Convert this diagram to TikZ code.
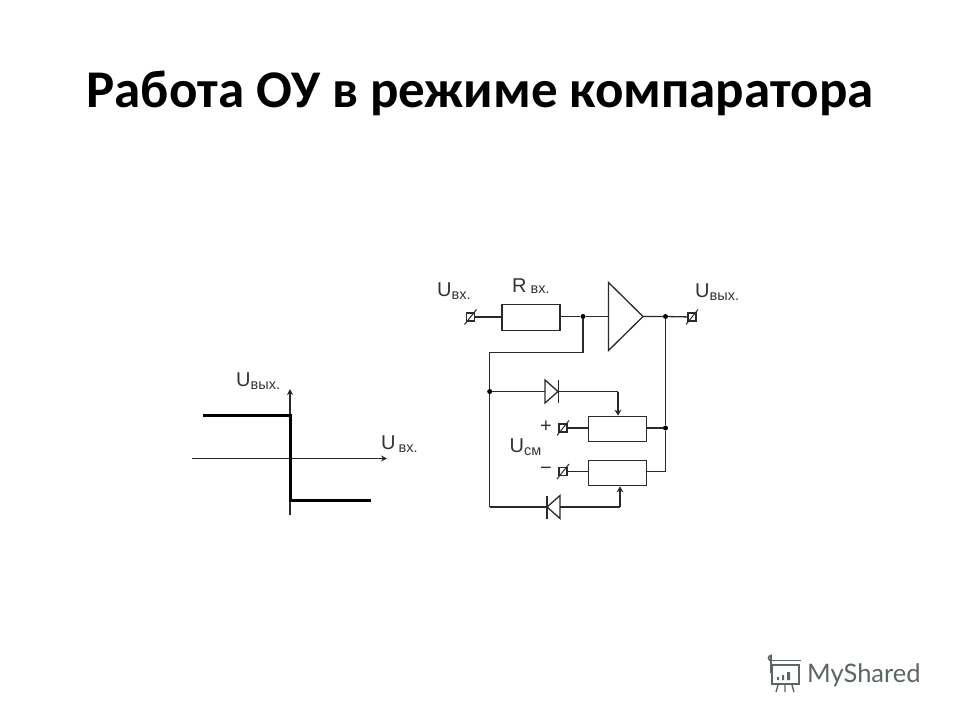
\documentclass[tikz,border=0pt]{standalone}
\usepackage{fontspec}
\setmainfont{Liberation Sans}
\newfontfamily\titlefont{Carlito}
\newfontfamily\logofont{Lato}
\usetikzlibrary{arrows.meta,shapes.geometric}
\definecolor{wirecolor}{HTML}{2A2A2A}
\definecolor{labelcolor}{HTML}{333333}
\definecolor{logocolor}{HTML}{5B6665}
\newcommand{\volt}[3][0pt]{{\fontsize{20}{20}\selectfont #2}\hspace{#1}\raisebox{-3pt}{\fontsize{14.5}{14.5}\selectfont #3}}
\tikzset{
    wire/.style={draw=wirecolor,line width=1.3pt},
    thinaxis/.style={draw=wirecolor,line width=1.1pt,-{Stealth[length=6pt,width=6pt]}},
    curve/.style={draw=black,line width=3pt},
    tap/.style={wire,-{Stealth[length=6pt,width=7pt]}},
    dot/.style={circle,fill=black,inner sep=0,minimum size=5pt},
    terminal/.style={rectangle,wire,inner sep=0,minimum size=8pt},
    resistor/.style={rectangle,wire,inner sep=0,minimum width=58pt,minimum height=25.5pt},
    diode/.style={isosceles triangle,isosceles triangle stretches,wire,inner sep=0,outer sep=0,minimum height=13pt,minimum width=23pt,anchor=apex},
    amplifier/.style={isosceles triangle,isosceles triangle stretches,wire,inner sep=0,outer sep=0,minimum height=34.5pt,minimum width=68pt,anchor=apex},
    caption/.style={text=labelcolor,inner sep=0,anchor=base west},
}
% terminal with its slash
\newcommand{\terminal}[3]{
    \node[terminal] (#1) at (#2,#3) {};
    \draw[wire,line width=1pt] (#2-6,#3+7.5) -- (#2+6,#3-7.5);
}
\begin{document}
\begin{tikzpicture}[x=1pt,y=-1pt]
    \useasboundingbox (0,0) rectangle (960,720);
    \pgfmathsetmacro{\inrow}{316.5}
    \pgfmathsetmacro{\leftrail}{489.7}
    \pgfmathsetmacro{\rightrail}{665.5}
    \pgfmathsetmacro{\toprow}{391.5}
    \pgfmathsetmacro{\bottomrow}{507}
    \node[inner sep=0,anchor=base] (title) at (480,107) {\titlefont\bfseries\fontsize{53}{53}\selectfont Работа ОУ в режиме компаратора};

    % characteristic
    \coordinate (xstart) at (192,458.5);
    \coordinate (xend) at (387,458.5);
    \coordinate (ystart) at (290,515);
    \coordinate (yend) at (290,389);
    \draw[thinaxis] (xstart) -- (xend);
    \draw[thinaxis] (ystart) -- (yend);
    \coordinate (highstart) at (203,415.5);
    \coordinate (highend) at (290,415.5);
    \coordinate (lowstart) at (290,500);
    \coordinate (lowend) at (371,500);
    \draw[curve,line join=miter] (highstart) -- (highend) -- (lowstart) -- (lowend);
    \node[caption] (youtlabel) at (236,386.5) {\volt{U}{вых.}};
    \node[caption] (xinlabel) at (381,449) {\volt[3pt]{U}{вх.}};

    % main line
    \terminal{tin}{470.5}{317}
    \node[resistor] (rin) at (531,\inrow+1) {};
    \node[dot] (jin) at (583,\inrow) {};
    \node[amplifier] (amp) at (643,\inrow) {};
    \node[dot] (jout) at (\rightrail,\inrow) {};
    \terminal{tout}{692}{317}
    \draw[wire] (tin) -- (rin.west |- tin);
    \draw[wire] (rin.east |- jin) -- (jin) -- (amp.lower side);
    \draw[wire] (amp.apex) -- (jout) -- (tout);
    \node[caption] (uinlabel) at (437,296) {\volt{U}{вх.}};
    \node[caption] (rinlabel) at (512,292.5) {{\fontsize{20}{20}\selectfont R}\hspace{4pt}\raisebox{-1pt}{\fontsize{14.5}{14.5}\selectfont вх.}};
    \node[caption] (uoutlabel) at (695,297) {\volt{U}{вых.}};

    % feedback
    \coordinate (fbcorner) at (583,352.5);
    \coordinate (fbleft) at (\leftrail,352.5);
    \node[dot] (jleft) at (\leftrail,\toprow) {};
    \coordinate (botleft) at (\leftrail,\bottomrow);
    \node[resistor] (rplus) at (617.25,429) {};
    \node[resistor] (rminus) at (617.25,473) {};
    \node[dot] (jright) at (\rightrail,428) {};
    \coordinate (rightend) at (\rightrail,471.5);
    \draw[wire] (jin) -- (fbcorner) -- (fbleft) -- (jleft) -- (botleft);
    \draw[wire] (jout) -- (jright) -- (rightend);
    \draw[wire] (rplus.east |- jright) -- (jright);
    \draw[wire] (rminus.east |- rightend) -- (rightend);

    % upper diode
    \node[diode] (dup) at (558,\toprow) {};
    \coordinate (dupbara) at (558.5,380);
    \coordinate (dupbarb) at (558.5,403);
    \draw[wire] (dupbara) -- (dupbarb);
    \coordinate (tapup) at (618,\toprow);
    \draw[wire] (jleft) -- (dup.lower side);
    \draw[wire] (dup.apex) -- (tapup);
    \draw[tap] (tapup) -- (rplus.north -| tapup);

    % lower diode
    \node[diode,shape border rotate=180] (ddown) at (547,\bottomrow) {};
    \coordinate (ddownbara) at (547,495.5);
    \coordinate (ddownbarb) at (547,518.5);
    \draw[wire] (ddownbara) -- (ddownbarb);
    \coordinate (tapdown) at (620,\bottomrow);
    \draw[wire] (botleft) -- (ddown.apex);
    \draw[wire] (ddown.lower side) -- (tapdown);
    \draw[tap] (tapdown) -- (rminus.south -| tapdown);

    % offset terminals
    \terminal{tplus}{563}{428}
    \terminal{tminus}{563}{471.5}
    \draw[wire] (tplus) -- (rplus.west |- tplus);
    \draw[wire] (tminus) -- (rminus.west |- tminus);
    \node[text=labelcolor,inner sep=0] (pluslabel) at (546,427) {\fontsize{20}{20}\selectfont +};
    \node[text=labelcolor,inner sep=0] (minuslabel) at (546,471) {\fontsize{20}{20}\selectfont −};
    \node[caption] (ucmlabel) at (509.5,452.5) {\volt{U}{см}};

    % logo
    \node[text=logocolor,inner sep=0,anchor=base west] (logo) at (807,682) {\logofont\fontsize{25.5}{25.5}\selectfont MyShared};
    \draw[logocolor,line width=1.6pt] (772,665) rectangle (799,684);
    \draw[logocolor,line width=1.6pt] (771,660.5) -- (801,660.5);
    \draw[logocolor,line width=1.6pt] (771,660.5) arc (90:270:2.5) -- (771,673);
    \fill[logocolor] (777,677) rectangle (779,680) (782,675) rectangle (784,680) (787,672) rectangle (790,680);
    \draw[logocolor,line width=1.4pt] (778,685) -- (776,692) (785,685) -- (785,692) (792,685) -- (794,692);
\end{tikzpicture}
\end{document}
